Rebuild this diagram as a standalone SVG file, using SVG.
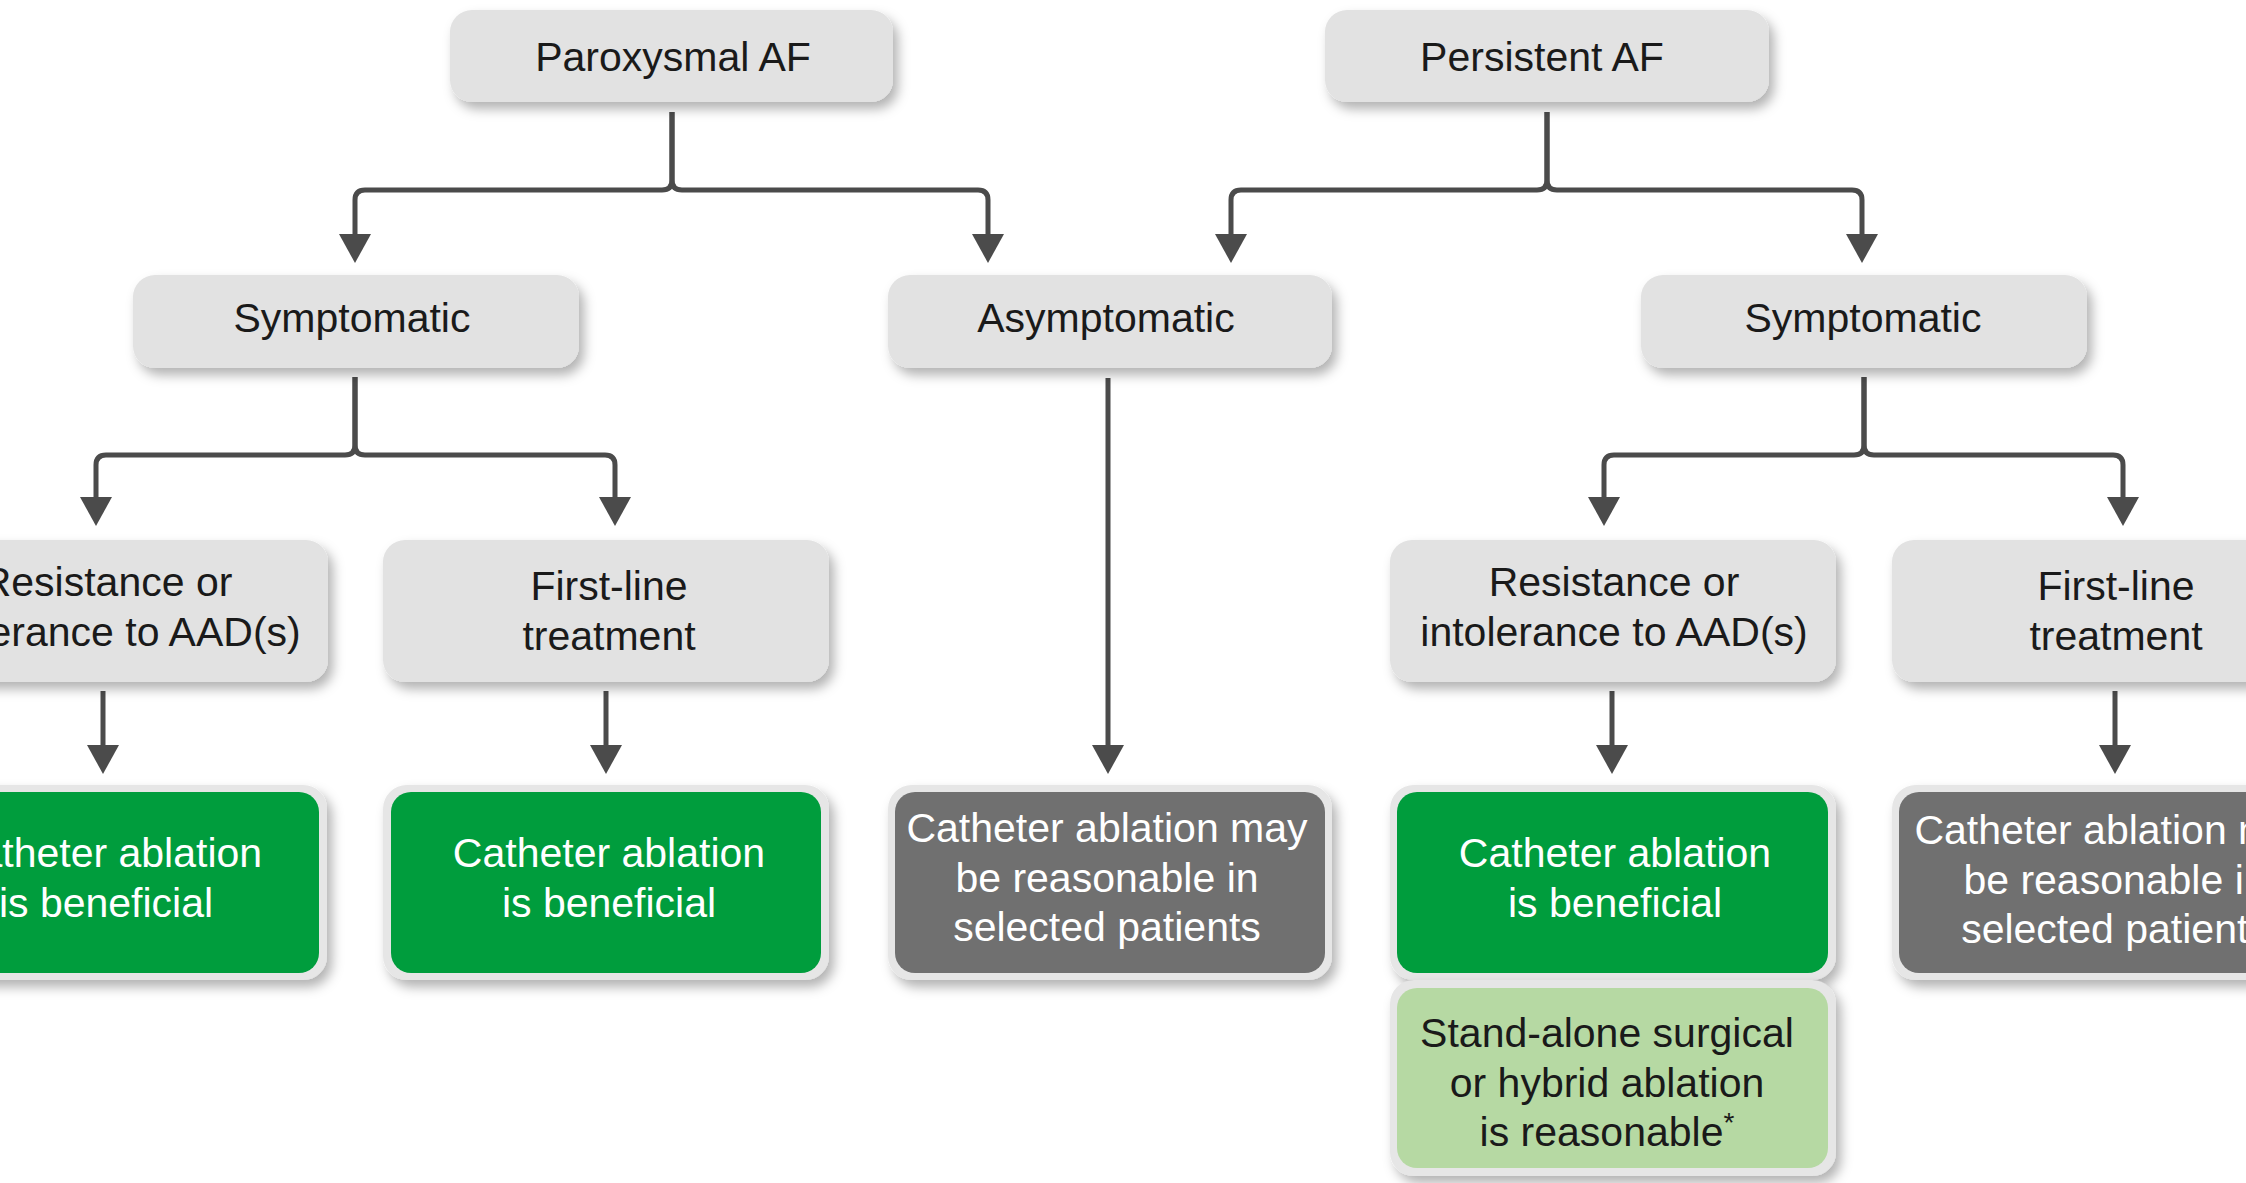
<svg xmlns="http://www.w3.org/2000/svg" width="2246" height="1183" viewBox="0 0 2246 1183">
<style>
  .box { fill: #e2e2e2; filter: url(#sh); }
  .halo { fill: #e6e6e6; filter: url(#sh); }
  .green { fill: #009d3d; }
  .dgray { fill: #707070; }
  .lgreen { fill: #b6d9a3; }
  text { font-family: "Liberation Sans", Arial, sans-serif; font-size: 41px; text-anchor: middle; fill: #1a1a1a; }
  text.w { fill: #ffffff; }
  .conn { fill: none; stroke: #4b4b4b; stroke-width: 5; stroke-linejoin: round; marker-end: url(#arr); }
</style>
<defs>
  <filter id="sh" x="-10%" y="-15%" width="125%" height="140%">
    <feDropShadow dx="5" dy="7" stdDeviation="6" flood-color="#000" flood-opacity="0.3"/>
  </filter>
  <marker id="arr" markerUnits="userSpaceOnUse" markerWidth="34" markerHeight="34" refX="4" refY="16" orient="auto">
    <path d="M0,0 L29,16 L0,32 Z" fill="#4b4b4b"/>
  </marker>
</defs>
<rect width="2246" height="1183" fill="#ffffff"/>

<g id="connectors">
  <path class="conn" d="M672,112 V180 Q672,190 662,190 H365 Q355,190 355,200 V238"/>
  <path class="conn" d="M672,112 V180 Q672,190 682,190 H978 Q988,190 988,200 V238"/>
  <path class="conn" d="M1547,112 V180 Q1547,190 1537,190 H1241 Q1231,190 1231,200 V238"/>
  <path class="conn" d="M1547,112 V180 Q1547,190 1557,190 H1852 Q1862,190 1862,200 V238"/>
  <path class="conn" d="M355,377 V445 Q355,455 345,455 H106 Q96,455 96,465 V501"/>
  <path class="conn" d="M355,377 V445 Q355,455 365,455 H605 Q615,455 615,465 V501"/>
  <path class="conn" d="M1864,377 V445 Q1864,455 1854,455 H1614 Q1604,455 1604,465 V501"/>
  <path class="conn" d="M1864,377 V445 Q1864,455 1874,455 H2113 Q2123,455 2123,465 V501"/>
  <path class="conn" d="M103,691 V749"/>
  <path class="conn" d="M606,691 V749"/>
  <path class="conn" d="M1108,378 V749"/>
  <path class="conn" d="M1612,691 V749"/>
  <path class="conn" d="M2115,691 V749"/>
</g>

<g id="paroxysmal">
  <rect class="box" x="450" y="10" width="443" height="92" rx="22"/>
  <text x="673" y="71">Paroxysmal AF</text>
</g>
<g id="persistent">
  <rect class="box" x="1325" y="10" width="444" height="92" rx="22"/>
  <text x="1542" y="71">Persistent AF</text>
</g>
<g id="symptomatic-left">
  <rect class="box" x="133" y="275" width="446" height="93" rx="22"/>
  <text x="352" y="332">Symptomatic</text>
</g>
<g id="asymptomatic">
  <rect class="box" x="888" y="275" width="444" height="93" rx="22"/>
  <text x="1106" y="332">Asymptomatic</text>
</g>
<g id="symptomatic-right">
  <rect class="box" x="1641" y="275" width="446" height="93" rx="22"/>
  <text x="1863" y="332">Symptomatic</text>
</g>
<g id="resistance-left">
  <rect class="box" x="-118" y="540" width="446" height="142" rx="22"/>
  <text x="107" y="596">Resistance or</text>
  <text x="107" y="646">intolerance to AAD(s)</text>
</g>
<g id="firstline-left">
  <rect class="box" x="383" y="540" width="446" height="142" rx="22"/>
  <text x="609" y="600">First-line</text>
  <text x="609" y="650">treatment</text>
</g>
<g id="resistance-right">
  <rect class="box" x="1390" y="540" width="446" height="142" rx="22"/>
  <text x="1614" y="596">Resistance or</text>
  <text x="1614" y="646">intolerance to AAD(s)</text>
</g>
<g id="firstline-right">
  <rect class="box" x="1892" y="540" width="446" height="142" rx="22"/>
  <text x="2116" y="600">First-line</text>
  <text x="2116" y="650">treatment</text>
</g>

<g id="beneficial-1">
  <rect class="halo" x="-119" y="785" width="446" height="195" rx="24"/>
  <rect class="green" x="-112" y="792" width="431" height="181" rx="20"/>
  <text class="w" x="106" y="867">Catheter ablation</text>
  <text class="w" x="106" y="917">is beneficial</text>
</g>
<g id="beneficial-2">
  <rect class="halo" x="383" y="785" width="446" height="195" rx="24"/>
  <rect class="green" x="391" y="792" width="430" height="181" rx="20"/>
  <text class="w" x="609" y="867">Catheter ablation</text>
  <text class="w" x="609" y="917">is beneficial</text>
</g>
<g id="reasonable-1">
  <rect class="halo" x="888" y="785" width="444" height="195" rx="24"/>
  <rect class="dgray" x="895" y="792" width="430" height="181" rx="20"/>
  <text class="w" x="1107" y="842">Catheter ablation may</text>
  <text class="w" x="1107" y="892">be reasonable in</text>
  <text class="w" x="1107" y="941">selected patients</text>
</g>
<g id="beneficial-3">
  <rect class="halo" x="1390" y="785" width="446" height="195" rx="24"/>
  <rect class="green" x="1397" y="792" width="431" height="181" rx="20"/>
  <text class="w" x="1615" y="867">Catheter ablation</text>
  <text class="w" x="1615" y="917">is beneficial</text>
</g>
<g id="reasonable-2">
  <rect class="halo" x="1892" y="785" width="446" height="195" rx="24"/>
  <rect class="dgray" x="1899" y="792" width="431" height="181" rx="20"/>
  <text class="w" x="2115" y="844">Catheter ablation may</text>
  <text class="w" x="2115" y="894">be reasonable in</text>
  <text class="w" x="2115" y="943">selected patients</text>
</g>
<g id="surgical">
  <rect class="halo" x="1390" y="980" width="446" height="196" rx="24"/>
  <rect class="lgreen" x="1397" y="988" width="431" height="180" rx="20"/>
  <text x="1607" y="1047">Stand-alone surgical</text>
  <text x="1607" y="1097">or hybrid ablation</text>
  <text x="1607" y="1146">is reasonable<tspan font-size="28" dy="-14">*</tspan></text>
</g>
</svg>
